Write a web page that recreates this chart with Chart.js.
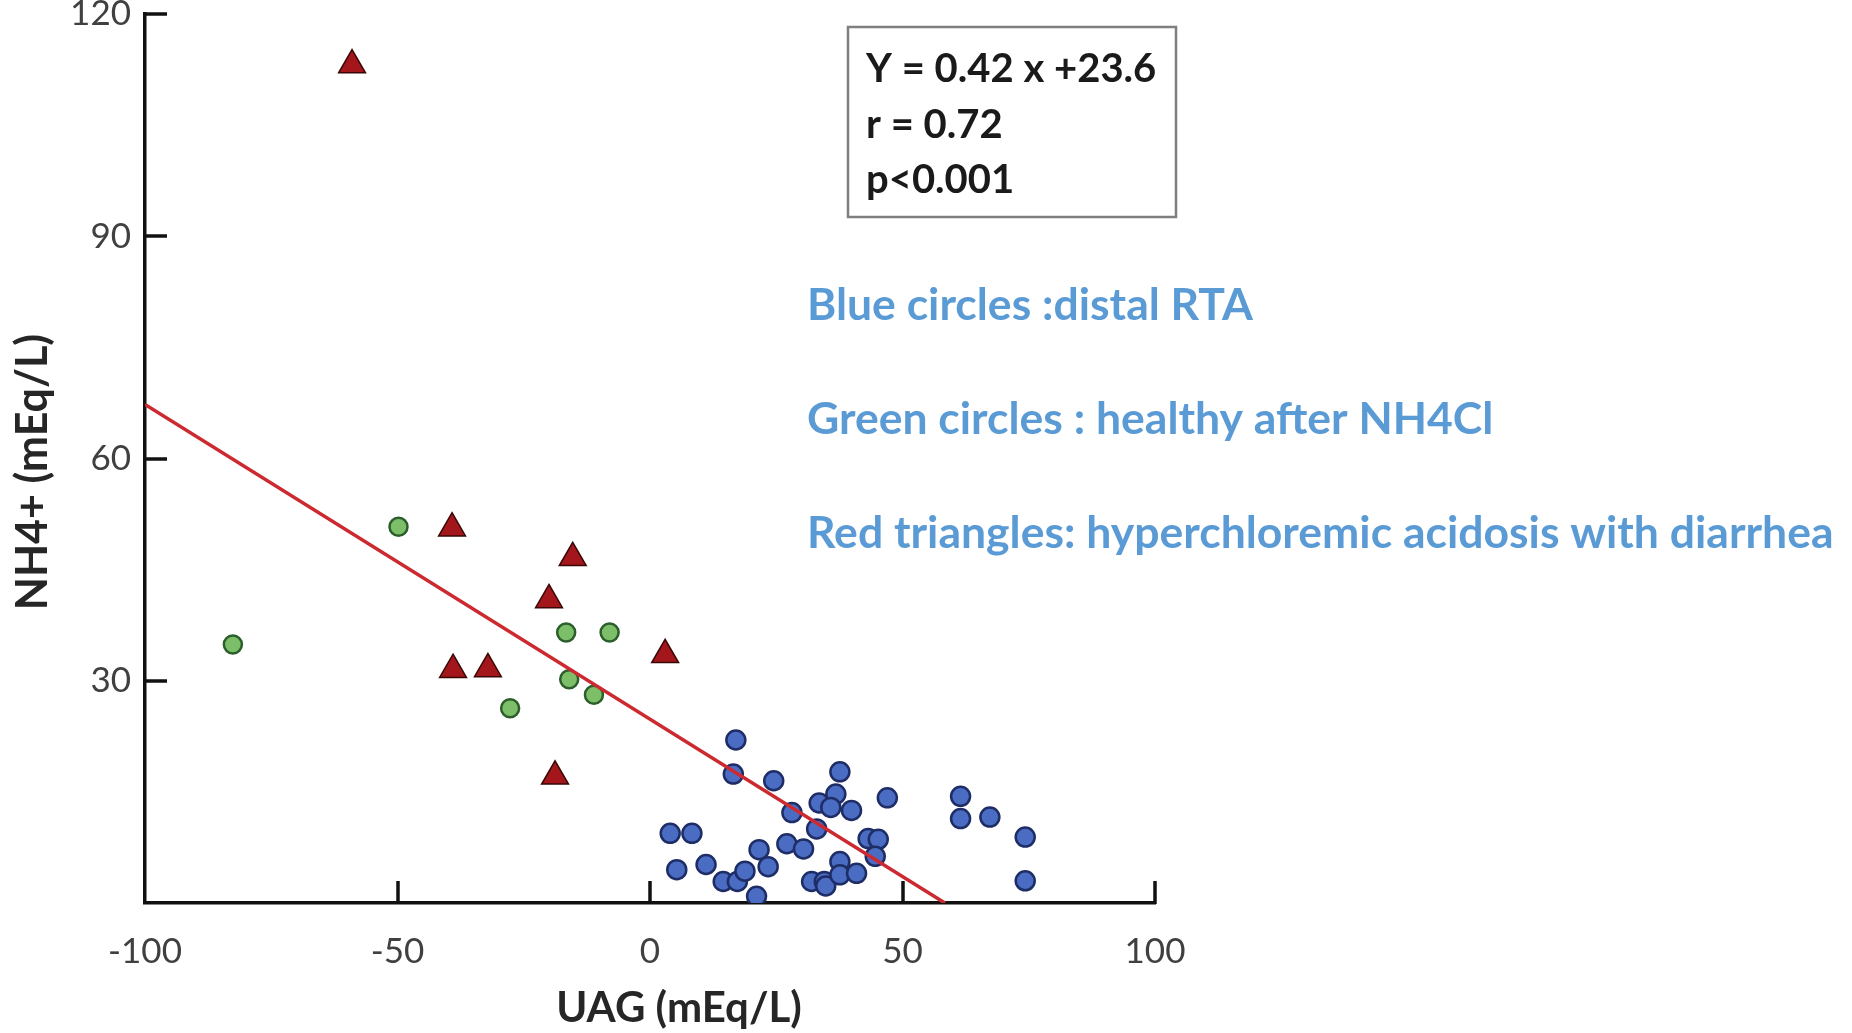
<!DOCTYPE html>
<html><head><meta charset="utf-8">
<script src="https://cdn.jsdelivr.net/npm/chart.js@4/dist/chart.umd.min.js"></script>
<style>html,body{margin:0;padding:0;background:#fff;}#wrap{width:1852px;height:1033px;position:relative;}</style>
</head><body><div id="wrap"><canvas id="c" width="1852" height="1033"></canvas></div>
<script>
// ---- data ----
const blueX = [17.0,16.5,24.5,37.6,36.8,33.5,35.8,39.9,47.0,28.1,33.0,61.5,61.5,67.3,74.3,74.3,4.0,8.3,5.3,11.1,14.5,17.3,18.8,21.6,23.4,21.1,27.1,30.4,32.0,34.5,34.8,37.6,37.6,40.9,43.2,45.2,44.6];
const blueY = [22.0,17.4,16.5,17.7,14.7,13.5,12.9,12.5,14.2,12.2,10.0,14.4,11.4,11.6,8.9,3.0,9.4,9.4,4.5,5.2,2.9,2.9,4.3,7.2,4.9,0.9,8.0,7.3,2.9,2.9,2.3,5.6,3.8,4.0,8.7,8.6,6.3];
const greenX = [-49.8,-82.6,-16.6,-8.0,-16.0,-11.1,-27.7];
const greenY = [50.8,34.9,36.5,36.5,30.2,28.1,26.3];
const redX = [-59.0,-39.2,-15.3,-20.0,-39.0,-32.1,3.0,-18.8];
const redY = [113.1,50.6,46.6,40.9,31.5,31.6,33.5,17.1];
const fitX = [-100, 58.4];
const fitY = [67.3, 0];
const xTicks = [-100,-50,0,50,100];
const yTicks = [0,30,60,90,120];
const xTitle = 'UAG (mEq/L)';
const yTitle = 'NH4+ (mEq/L)';
const statsLines = ['Y = 0.42 x +23.6','r = 0.72','p<0.001'];
const legendLines = ['Blue circles :distal RTA','Green circles : healthy after NH4Cl','Red triangles: hyperchloremic acidosis with diarrhea'];

const pts = (xs, ys) => xs.map((x, i) => ({x: x, y: ys[i]}));

const decor = {
  id: 'decor',
  afterDraw(chart) {
    const ctx = chart.ctx, xs = chart.scales.x, ys = chart.scales.y, a = chart.chartArea;
    ctx.save();
    ctx.strokeStyle = '#111';
    ctx.lineWidth = 3.5;
    ctx.lineCap = 'butt';
    // inward tick marks
    xTicks.forEach(v => {
      if (v === xTicks[0]) return;
      const px = Math.round(xs.getPixelForValue(v));
      ctx.beginPath(); ctx.moveTo(px, a.bottom + 1); ctx.lineTo(px, a.bottom - 22); ctx.stroke();
    });
    yTicks.forEach(v => {
      if (v === yTicks[0]) return;
      const py = Math.round(ys.getPixelForValue(v));
      ctx.beginPath(); ctx.moveTo(a.left - 1, py); ctx.lineTo(a.left + 22, py); ctx.stroke();
    });
    // axis titles
    ctx.fillStyle = '#262626';
    ctx.font = 'bold 42px Lato';
    ctx.textAlign = 'center'; ctx.textBaseline = 'middle';
    ctx.fillText(xTitle, 679, 1008);
    ctx.save();
    ctx.translate(33, 472); ctx.rotate(-Math.PI / 2);
    ctx.font = 'bold 43px Lato';
    ctx.fillText(yTitle, 0, 0);
    ctx.restore();
    // stats box
    ctx.strokeStyle = '#7f7f7f'; ctx.lineWidth = 2.5;
    ctx.fillStyle = '#fff';
    ctx.fillRect(848, 27, 328, 190);
    ctx.strokeRect(848, 27, 328, 190);
    ctx.fillStyle = '#1a1a1a';
    ctx.font = 'bold 40px Lato';
    ctx.textAlign = 'left'; ctx.textBaseline = 'alphabetic';
    [82, 138, 193].forEach((b, i) => ctx.fillText(statsLines[i], 866, b));
    // legend text
    ctx.fillStyle = '#5B9BD5';
    ctx.font = 'bold 44.5px Lato';
    [320, 434, 548].forEach((b, i) => ctx.fillText(legendLines[i], 807, b));
    ctx.restore();
  }
};

new Chart(document.getElementById('c'), {
  type: 'scatter',
  data: {
    datasets: [
      {type: 'line', label: 'fit', data: pts(fitX, fitY), borderColor: '#cc2a30', borderWidth: 3.5, pointRadius: 0, fill: false, order: 0},
      {label: 'distal RTA', data: pts(blueX, blueY), pointStyle: 'circle', pointRadius: 9.5, backgroundColor: '#4a6cc2', borderColor: '#1e2d66', borderWidth: 2.5, order: 1},
      {label: 'healthy after NH4Cl', data: pts(greenX, greenY), pointStyle: 'circle', pointRadius: 9, backgroundColor: '#7cbf68', borderColor: '#2c5e2c', borderWidth: 2.5, order: 1},
      {label: 'diarrhea', data: pts(redX, redY), pointStyle: 'triangle', pointRadius: 15.5, backgroundColor: '#a3161c', borderColor: '#3a0606', borderWidth: 1.5, order: 1}
    ]
  },
  options: {
    responsive: false,
    devicePixelRatio: 1,
    animation: false,
    layout: {autoPadding: false, padding: {left: 0, top: 14, right: 697, bottom: 0}},
    plugins: {legend: {display: false}, tooltip: {enabled: false}},
    scales: {
      x: {
        type: 'linear', min: xTicks[0], max: xTicks[xTicks.length - 1],
        afterBuildTicks: s => { s.ticks = xTicks.map(v => ({value: v})); },
        afterFit: s => { s.height = 130; s.paddingLeft = 0; s.paddingRight = 0; s.paddingTop = 0; s.paddingBottom = 0; },
        grid: {display: true, drawOnChartArea: false, drawTicks: false},
        border: {display: true, color: '#111', width: 3.5},
        ticks: {padding: 28, color: '#404040', font: {family: 'Lato', size: 35}}
      },
      y: {
        type: 'linear', min: yTicks[0], max: yTicks[yTicks.length - 1],
        afterBuildTicks: s => { s.ticks = yTicks.map(v => ({value: v})); },
        afterFit: s => { s.width = 145; s.paddingLeft = 0; s.paddingRight = 0; s.paddingTop = 0; s.paddingBottom = 0; },
        grid: {display: true, drawOnChartArea: false, drawTicks: false},
        border: {display: true, color: '#111', width: 3.5},
        ticks: {padding: 14, color: '#404040', font: {family: 'Lato', size: 35}, callback: v => v === 0 ? '' : String(v)}
      }
    }
  },
  plugins: [decor]
});
</script>
</body></html>
